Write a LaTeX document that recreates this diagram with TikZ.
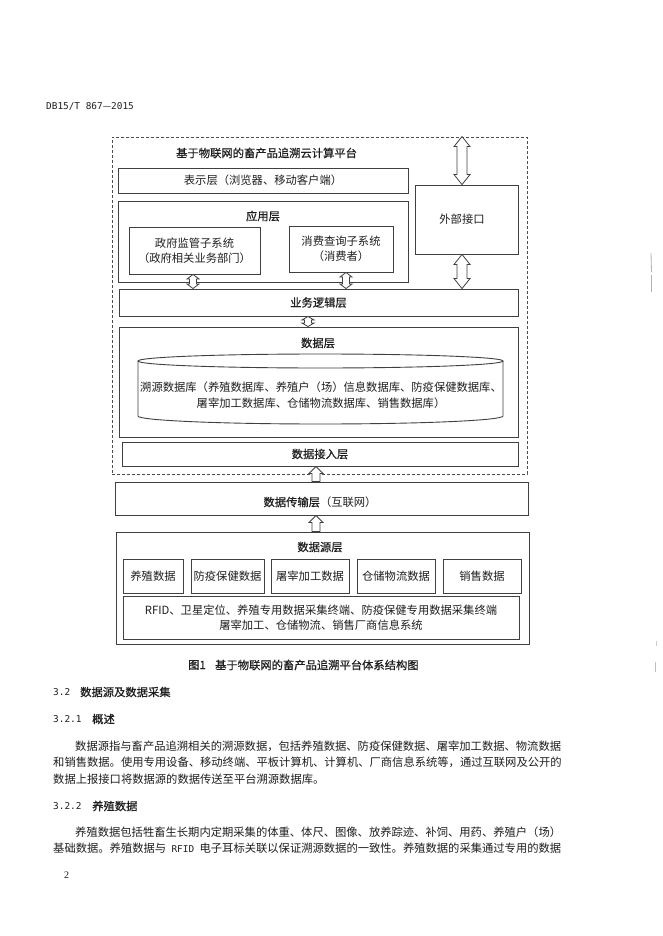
\documentclass[tikz,border=0pt]{standalone}
\usepackage{fontspec}
\setmainfont{Noto Sans CJK SC}
\newfontfamily\hei[FakeBold=0.7]{Noto Sans CJK SC}
\newfontfamily\monof{DejaVu Sans Mono}
\newfontfamily\serf{Liberation Serif}
\usetikzlibrary{calc}
\XeTeXlinebreaklocale "zh"
\XeTeXlinebreakskip=0pt plus 3pt
\newcommand\hdarrow[5]{\draw[harrow] let \p1=(#1), \p2=(#2) in
 (\x1,\y1) -- ({\x1+#3},{\y1-#5}) -- ({\x1+#4},{\y1-#5}) -- ({\x1+#4},{\y2+#5}) -- ({\x1+#3},{\y2+#5}) -- (\x1,\y2)
 -- ({\x1-#3},{\y2+#5}) -- ({\x1-#4},{\y2+#5}) -- ({\x1-#4},{\y1-#5}) -- ({\x1-#3},{\y1-#5}) -- cycle;}
\newcommand\huparrow[5]{\draw[harrow] let \p1=(#1), \p2=(#2) in
 (\x1,\y1) -- ({\x1+#3},{\y1-#5}) -- ({\x1+#4},{\y1-#5}) -- ({\x1+#4},\y2) -- ({\x1-#4},\y2)
 -- ({\x1-#4},{\y1-#5}) -- ({\x1-#3},{\y1-#5}) -- cycle;}
\begin{document}
\begin{tikzpicture}[x=1pt,y=-1pt,
  every node/.style={inner sep=0pt, text=black!88},
  rm/.style={font=\fontsize{11.3}{15.5}\selectfont},
  hb/.style={font=\hei\fontsize{11.3}{15.5}\selectfont},
  mn/.style={font=\monof\fontsize{9.4}{11}\selectfont},
  box/.style={draw=black!75, line width=0.9pt, align=center, rm},
  dbox/.style={draw=black!70, line width=0.9pt, dash pattern=on 3pt off 2pt},
  cyl/.style={draw=black!75, line width=0.9pt},
  harrow/.style={draw=black!75, line width=0.8pt, fill=white, line join=miter},
  scan/.style={draw=black!30, line width=0.8pt}]
\useasboundingbox (0,0) rectangle (662,936);
\fill[white] (0,0) rectangle (662,936);

% header
\node[mn, anchor=west] (hdr) at (46,106) {DB15/T 867{\rmfamily —}2015};

% cloud platform
\node[dbox, minimum width=415, minimum height=337] (cloud) at (319.5,305.5) {};
\node[hb, anchor=west] (ttl) at (176,153) {基于物联网的畜产品追溯云计算平台};
\node[box, minimum width=290, minimum height=25] (show) at (263,180.5) {表示层（浏览器、移动客户端）};
\node[box, minimum width=290, minimum height=81] (app) at (263,241.5) {};
\node[hb] (appl) at (263,216) {应用层};
\node[box, minimum width=131, minimum height=47] (gov) at (194.5,250.5) {政府监管子系统\\（政府相关业务部门）};
\node[box, minimum width=104, minimum height=46] (con) at (341,249) {消费查询子系统\\（消费者）};
\node[box, minimum width=103, minimum height=69] (ext) at (466.5,219.5) {\hspace*{-9pt}外部接口};
\node[box, hb, minimum width=399, minimum height=27] (biz) at (318.5,302.5) {业务逻辑层};
\node[box, minimum width=399, minimum height=110] (data) at (318.5,382) {};
\node[hb] (datal) at (318,343) {数据层};
% cylinder
\draw[cyl] (320.5,361) ellipse [x radius=182.5pt, y radius=7pt];
\draw[cyl] (138,361) -- (138,416) arc[start angle=180, end angle=360, x radius=182.5pt, y radius=8pt] -- (503,361);
\node[rm, align=center] (db) at (321,395) {溯源数据库（养殖数据库、养殖户（场）信息数据库、防疫保健数据库、\\屠宰加工数据库、仓储物流数据库、销售数据库）};
\node[box, hb, minimum width=396, minimum height=24] (acc) at (320,454) {数据接入层};

% transport + source
\node[box, minimum width=413, minimum height=33] (trans) at (321.5,498.5) {};
\node[rm] (transl) at (320,502) {{\hei 数据传输层}（互联网）};
\node[box, minimum width=413, minimum height=112] (src) at (322.5,588) {};
\node[hb] (srcl) at (320,547) {数据源层};
\node[box, minimum width=60, minimum height=34] (s1) at (153,576) {养殖数据};
\node[box, minimum width=73, minimum height=34] (s2) at (227.5,576) {防疫保健数据};
\node[box, minimum width=78, minimum height=34] (s3) at (310,576) {屠宰加工数据};
\node[box, minimum width=78, minimum height=34] (s4) at (396,576) {仓储物流数据};
\node[box, minimum width=78, minimum height=34] (s5) at (482,576) {销售数据};
\node[box, minimum width=396, minimum height=43] (dev) at (321,617.5) {RFID、卫星定位、养殖专用数据采集终端、防疫保健专用数据采集终端\\屠宰加工、仓储物流、销售厂商信息系统};

% arrows
\coordinate (ex) at ($(ext.north)+(-4.5,0)$);
\hdarrow{ex |- cloud.north}{ex}{8pt}{5pt}{10pt}
\hdarrow{ex |- ext.south}{ex |- biz.north}{8pt}{5pt}{10pt}
\coordinate (ga) at ($(gov.south)+(-1.5,0)$);
\hdarrow{ga}{ga |- biz.north}{6pt}{3.5pt}{4.5pt}
\coordinate (ca) at ($(con.south)+(5,0)$);
\hdarrow{ca}{ca |- biz.north}{6pt}{3.5pt}{4.5pt}
\coordinate (ba) at ($(biz.south)+(-10.5,0)$);
\hdarrow{ba}{ba |- data.north}{6pt}{3.5pt}{3.5pt}
\coordinate (ua) at ($(acc.south)+(-4,0)$);
\huparrow{ua}{ua |- trans.north}{7pt}{4pt}{7pt}
\huparrow{ua |- trans.south}{ua |- src.north}{7pt}{4pt}{7pt}

% caption
\node[hb, anchor=west] (capn) at (188,665) {图1};
\node[hb, anchor=west] (capt) at (215,665) {基于物联网的畜产品追溯平台体系结构图};

% body text
\node[mn, anchor=west] (h32n) at (53,692) {3.2};
\node[hb, anchor=west] (h32) at (80,692) {数据源及数据采集};
\node[mn, anchor=west] (h321n) at (53,719) {3.2.1};
\node[hb, anchor=west] (h321) at (92,719) {概述};
\node[rm, anchor=west] (p1a) at (75,746) {\makebox[486pt][s]{数据源指与畜产品追溯相关的溯源数据，包括养殖数据、防疫保健数据、屠宰加工数据、物流数据}};
\node[rm, anchor=west] (p1b) at (53,762.5) {\makebox[508pt][s]{和销售数据。使用专用设备、移动终端、平板计算机、计算机、厂商信息系统等，通过互联网及公开的}};
\node[rm, anchor=west] (p1c) at (53,779) {数据上报接口将数据源的数据传送至平台溯源数据库。};
\node[mn, anchor=west] (h322n) at (53,806) {3.2.2};
\node[hb, anchor=west] (h322) at (92,806) {养殖数据};
\node[rm, anchor=west] (p2a) at (75,832) {\makebox[486pt][s]{养殖数据包括牲畜生长期内定期采集的体重、体尺、图像、放养踪迹、补饲、用药、养殖户（场）}};
\node[rm, anchor=west] (p2b) at (53,848.5) {\makebox[508pt][s]{基础数据。养殖数据与 {\monof\fontsize{9.4}{11}\selectfont RFID} 电子耳标关联以保证溯源数据的一致性。养殖数据的采集通过专用的数据}};
\node[anchor=west, font=\serf\fontsize{10}{12}\selectfont] (pg) at (64,875) {2};

% scan marks in the margin
\draw[scan] (651,253) -- (651.5,272);
\draw[scan] (651,275) -- (651,292);
\draw[scan, draw=black!20] (656,641) -- (656,646);
\draw[scan, draw=black!25] (655,662) -- (655,672);
\end{tikzpicture}
\end{document}
